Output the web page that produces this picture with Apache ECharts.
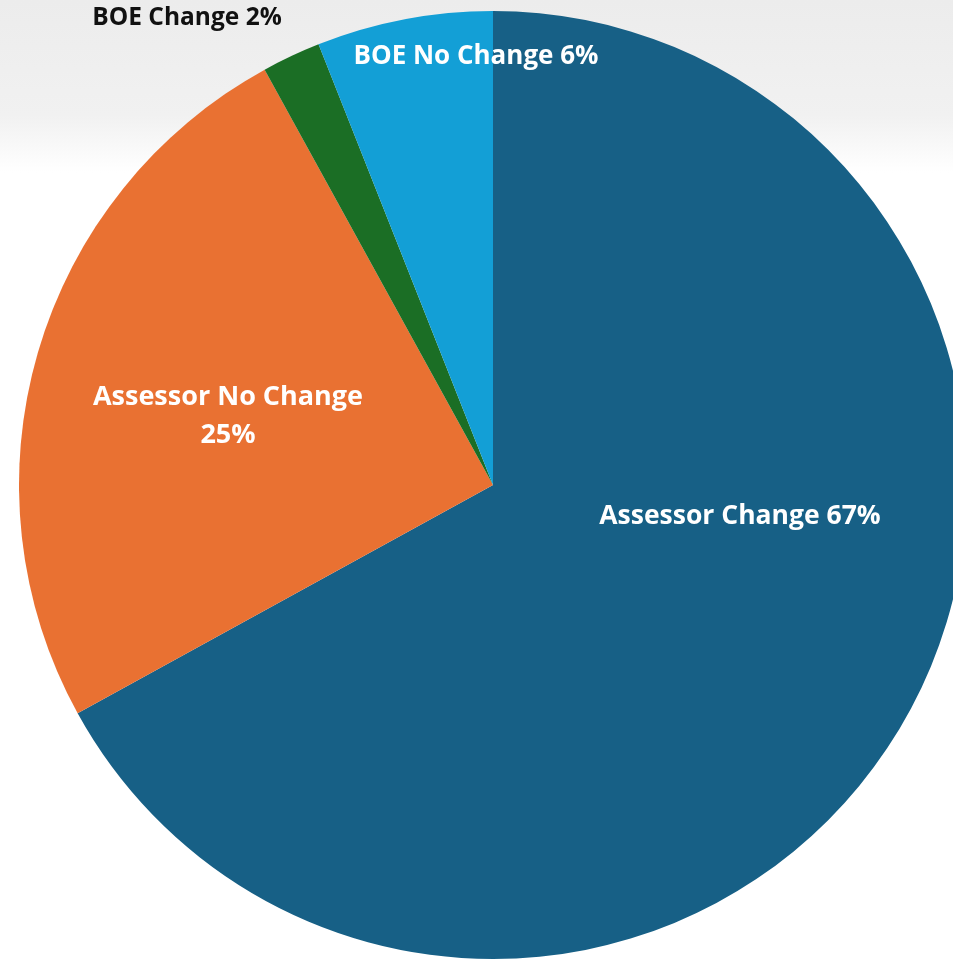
<!DOCTYPE html>
<html>
<head>
<meta charset="utf-8">
<script src="https://cdn.jsdelivr.net/npm/echarts@6/dist/echarts.min.js"></script>
<style>html,body{margin:0;padding:0;background:#fff}#c{width:953px;height:959px}</style>
</head>
<body>
<div id="c"></div>
<script>
const categories = ['Assessor Change', 'Assessor No Change', 'BOE Change', 'BOE No Change'];
const values = [67, 25, 2, 6];
const labelTexts = ['Assessor Change 67%', 'Assessor No Change\n25%', 'BOE Change 2%', 'BOE No Change 6%'];

const colors = ['#176086', '#E97132', '#1B6E25', '#139FD6'];
const labelColors = ['#ffffff', '#ffffff', '#111111', '#ffffff'];
const labelSizes = [26.5, 27, 24.5, 26];
const labelPos = [[740, 516], [228, 416], [187, 18], [476, 57]];

const chart = echarts.init(document.getElementById('c'));
chart.setOption({
  backgroundColor: {
    type: 'linear', x: 0, y: 0, x2: 0, y2: 1,
    colorStops: [{offset: 0, color: '#ececec'}, {offset: 0.12, color: '#f1f1f1'}, {offset: 0.18, color: '#ffffff'}, {offset: 1, color: '#ffffff'}]
  },
  animation: false,
  series: [{
    type: 'pie',
    center: [493, 485],
    radius: 474,
    startAngle: 90,
    clockwise: true,
    data: categories.map((n, i) => ({
      name: n,
      value: values[i],
      itemStyle: {color: colors[i]},
      label: {color: labelColors[i], formatter: labelTexts[i], fontSize: labelSizes[i]}
    })),
    itemStyle: {borderWidth: 0},
    label: {
      show: true,
      position: 'inside',
      fontFamily: 'Open Sans',
      fontWeight: 'bold',
      lineHeight: 38,
      align: 'center'
    },
    labelLine: {show: false},
    labelLayout: function (p) {
      const pos = labelPos[p.dataIndex];
      return {x: pos[0], y: pos[1], align: 'center', verticalAlign: 'middle'};
    }
  }]
});
</script>
</body>
</html>
